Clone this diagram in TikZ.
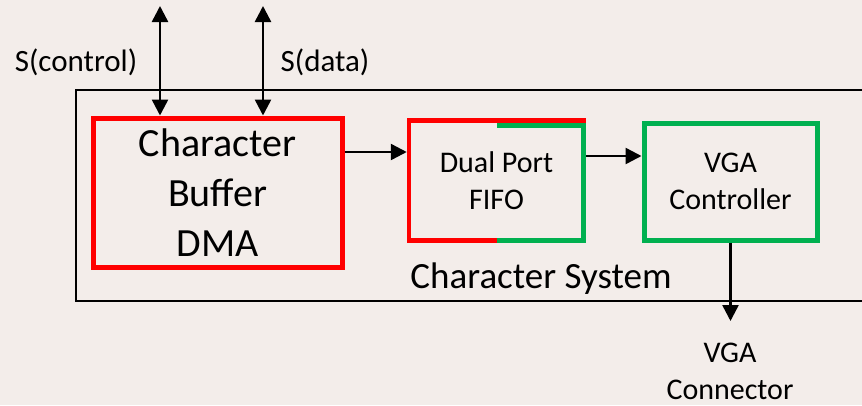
\documentclass[tikz,border=0pt]{standalone}
\usepackage{fontspec}
\setmainfont{Carlito}
\usetikzlibrary{arrows.meta,calc}
\definecolor{bgc}{RGB}{243,237,234}
\definecolor{myred}{RGB}{255,0,0}
\definecolor{mygreen}{RGB}{0,176,80}
\tikzset{
  tip/.tip={Triangle[length=16pt,width=16pt]}
}
\begin{document}
\begin{tikzpicture}[x=1pt,y=-1pt,
  big/.style={font=\fontsize{40}{50}\selectfont},
  mid/.style={font=\fontsize{30}{37}\selectfont},
  redbox/.style={draw=myred,line width=5pt,align=center,inner sep=0pt},
  greenbox/.style={draw=mygreen,line width=5pt,align=center,inner sep=0pt},
  conn/.style={line width=2.5pt,-tip},
  biconn/.style={line width=2.5pt,tip-tip}]
\useasboundingbox (0,0) rectangle (862,405);
\fill[bgc] (0,0) rectangle (862,405);
% outer system rectangle
\draw[line width=1.3pt] (76,90) rectangle (880,301);
\node[font=\fontsize{37}{44}\selectfont] (sys) at (541,279) {Character System};
% boxes
\node[redbox, big, minimum width=249pt, minimum height=149pt] (cbd) at (217.5,192.5) {Character\\Buffer\\DMA};
\node[redbox, line width=4.5pt, mid, minimum width=175pt, minimum height=120pt] (fifo) at (496.5,180.5) {Dual Port\\FIFO};
\draw[mygreen, line width=5pt] (497,125) -- (583,125) -- (583,240) -- (497,240);
\node[greenbox, mid, minimum width=173pt, minimum height=117pt] (vga) at (730.5,181.5) {VGA\\Controller};
% external labels
\coordinate (t1) at (160,6);
\coordinate (t2) at (263,6);
\node[font=\fontsize{31}{37}\selectfont] (lc) at (76,62) {S(control)};
\node[font=\fontsize{31}{37}\selectfont] (ld) at (325,62) {S(data)};
\node[mid, align=center] (conn) at (730,371) {VGA\\Connector};
% connectors
\draw[biconn] (t1) -- (t1 |- cbd.north);
\draw[biconn] (t2) -- (t2 |- cbd.north);
\draw[conn] (cbd.east |- 0,152) -- (fifo.west |- 0,152);
\draw[conn] (fifo.east |- 0,156) -- (vga.west |- 0,156);
\draw[conn] (vga.south) -- (vga.south |- 0,321);
\end{tikzpicture}
\end{document}
